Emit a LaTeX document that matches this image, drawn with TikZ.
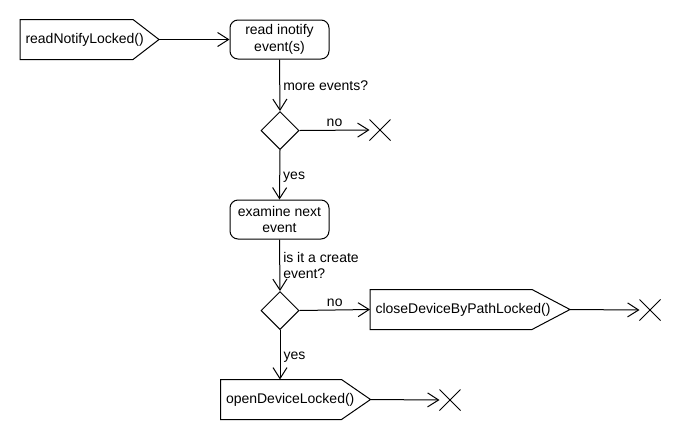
\documentclass[tikz,border=0pt]{standalone}
\usepackage{fontspec}
\setmainfont{Liberation Sans}
\usetikzlibrary{arrows.meta,shapes.geometric,shapes.misc}
\begin{document}
\begin{tikzpicture}[x=1pt,y=-1pt,line width=1pt,
  font=\fontsize{14}{16.5}\selectfont,
  sig/.style={minimum height=39pt, inner xsep=5pt, inner ysep=0pt, text width=#1, align=left, anchor=west},
  act/.style={draw, rounded corners=8pt, minimum width=99pt, minimum height=39pt, align=center, inner sep=1pt},
  dec/.style={draw, diamond, minimum width=38pt, minimum height=38pt, inner sep=0pt},
  endx/.style={draw, cross out, minimum size=20pt, inner sep=0pt},
  flow/.style={-{Straight Barb[length=11pt,width=14pt]}},
  lab/.style={inner sep=3pt}]
\useasboundingbox (0,0) rectangle (680,440);
\node[sig=128pt] (rn) at (20,39.5) {readNotifyLocked()};
\draw (rn.north west) -- ([xshift=-26pt]rn.north east) -- (rn.east) -- ([xshift=-26pt]rn.south east) -- (rn.south west) -- cycle;
\node[act] (rie) at (279.5,39.5) {read inotify\\event(s)};
\node[dec] (d1) at (280,130.5) {};
\node[endx] (x1) at (380,130) {};
\node[act] (een) at (279.5,219.5) {examine next\\event};
\node[dec] (d2) at (280,310.5) {};
\node[sig=189pt] (cd) at (370,309.5) {closeDeviceByPathLocked()};
\draw (cd.north west) -- ([xshift=-38pt]cd.north east) -- (cd.east) -- ([xshift=-38pt]cd.south east) -- (cd.south west) -- cycle;
\node[endx] (x2) at (650,310) {};
\node[sig=139pt] (od) at (220.5,399.5) {openDeviceLocked()};
\draw (od.north west) -- ([xshift=-29pt]od.north east) -- (od.east) -- ([xshift=-29pt]od.south east) -- (od.south west) -- cycle;
\node[endx] (x3) at (450,400) {};
\draw[flow] (rn.east) -- (rie.west);
\draw[flow] (rie.south) -- node[lab, right]{more events?} (d1.north);
\draw[flow] (d1.east) -- node[lab, above]{no} (x1.west);
\draw[flow] (d1.south) -- node[lab, right, pos=0.55]{yes} (een.north);
\draw[flow] (een.south) -- node[lab, right, align=left]{is it a create\\event?} (d2.north);
\draw[flow] (d2.east) -- node[lab, above]{no} (cd.west);
\draw[flow] (cd.east) -- (x2.west);
\draw[flow] (d2.south) -- node[lab, right, pos=0.55]{yes} (d2.south |- od.north);
\draw[flow] (od.east) -- (x3.west);
\end{tikzpicture}
\end{document}
